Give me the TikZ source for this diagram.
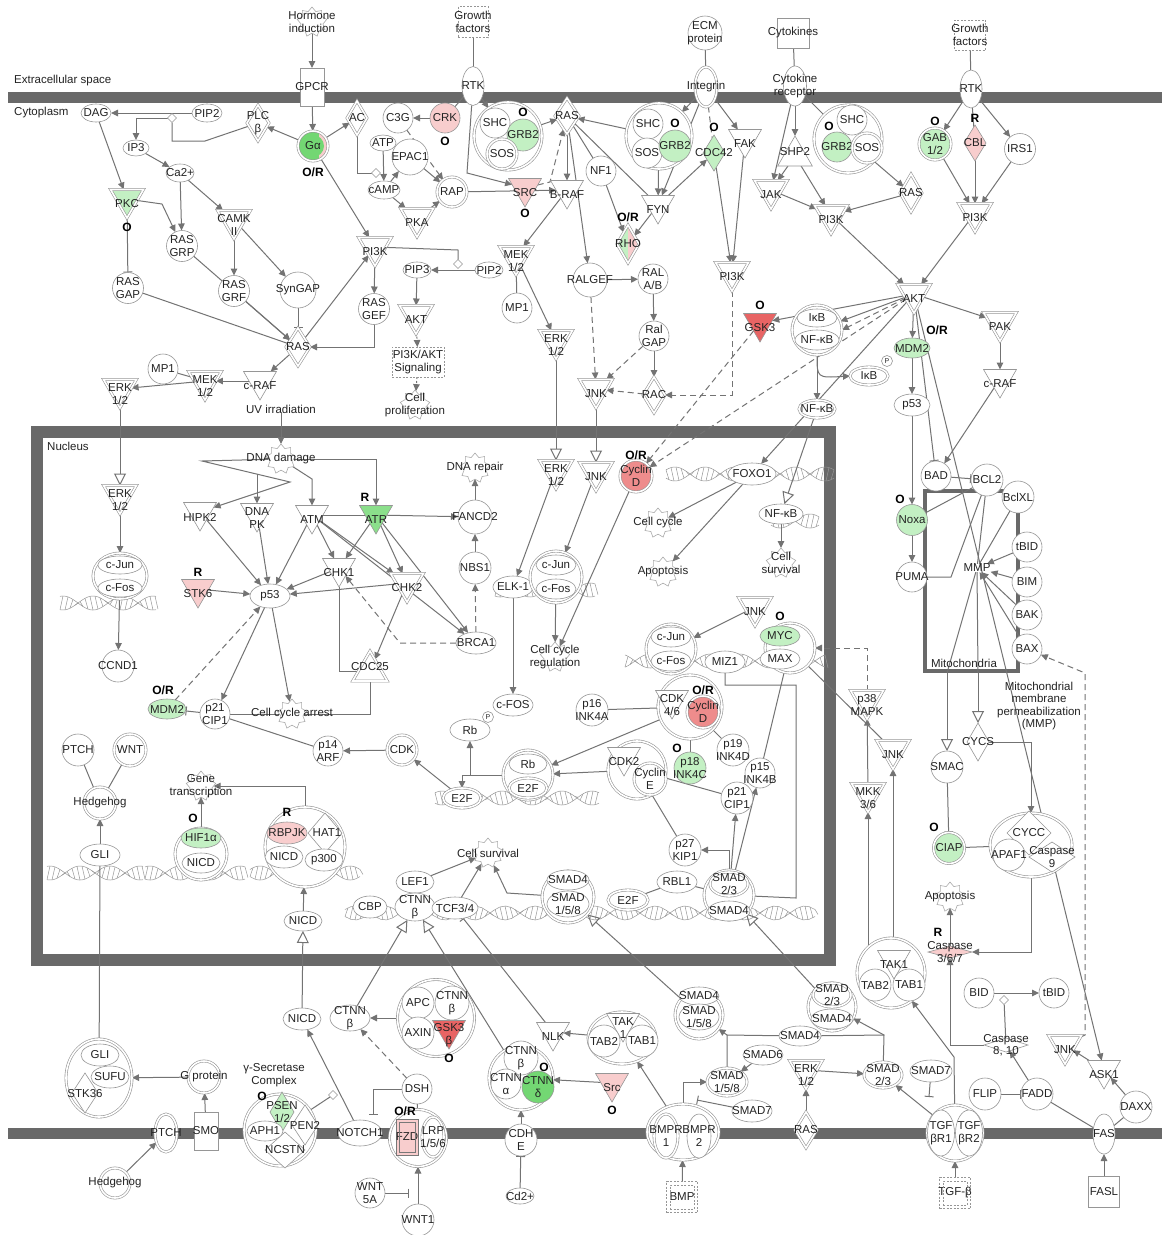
\documentclass[tikz,border=0pt]{standalone}
\usepackage{fontspec}
\setmainfont{Liberation Sans}
\usetikzlibrary{shapes.geometric,arrows.meta,calc}
\definecolor{mem}{RGB}{105,105,105}
\definecolor{ec}{RGB}{115,115,115}
\definecolor{nd}{RGB}{150,150,150}
\definecolor{lg}{RGB}{195,240,195}
\definecolor{gr}{RGB}{115,215,115}
\definecolor{pk}{RGB}{248,205,205}
\definecolor{rd}{RGB}{232,100,100}
\definecolor{cd}{RGB}{238,140,140}
\definecolor{tx}{RGB}{35,35,35}
\pgfdeclarelayer{memb}\pgfdeclarelayer{edg}
\pgfsetlayers{memb,edg,main}
\newcommand\fs{\fontsize{11.5}{12.5}\selectfont}
\tikzset{
 nb/.style={draw=nd, line width=0.6pt, fill=white, inner sep=0pt, outer sep=0pt},
 dbl/.style={double=white, double distance=1.6pt},
 dsh/.style={dash pattern=on 2pt off 1.5pt},
 ci/.style={nb, circle, minimum size=#1},
 el/.style 2 args={nb, ellipse, minimum width=#1, minimum height=#2},
 tr/.style={nb, regular polygon, regular polygon sides=3, shape border rotate=180, minimum size=#1, yshift=5pt},
 tr/.default=38,
 tu/.style={nb, regular polygon, regular polygon sides=3, minimum size=#1, yshift=-4pt},
 tu/.default=40,
 dm/.style 2 args={nb, diamond, minimum width=#1, minimum height=#2},
 rc/.style 2 args={nb, rectangle, minimum width=#1, minimum height=#2},
 sd/.style={nb, diamond, minimum width=9, minimum height=9},
 gear/.style={nb, star, star points=9, star point ratio=1.35, minimum size=30, draw=nd!80},
 lbl/.style={font=\fs, text=tx, align=center, inner sep=0pt},
 ann/.style={font=\fontsize{12}{13}\selectfont\bfseries, text=black, inner sep=0pt},
 ar/.style={draw=ec, line width=1pt, -{Triangle[length=7pt,width=6.5pt]}},
 ln/.style={draw=ec, line width=1pt},
 inh/.style={draw=ec, line width=1pt, -{Bar[width=9pt]}},
 da/.style={ar, dash pattern=on 6pt off 4pt},
 dl/.style={ln, dash pattern=on 6pt off 4pt},
 tl/.style={draw=ec, line width=1pt, -{Triangle[open,length=12pt,width=12pt]}},
 hx/.style={draw=nd, line width=0.5pt},
 halfgp/.style={path picture={
   \fill[lg] (path picture bounding box.south west) rectangle (path picture bounding box.north);
   \fill[pk] (path picture bounding box.south) rectangle (path picture bounding box.north east);}},
 gacol/.style={path picture={
   \fill[gr] (path picture bounding box.south west) rectangle (path picture bounding box.north east);
   \fill[pk] ([xshift=-9pt]path picture bounding box.south east) rectangle (path picture bounding box.north east);
   \fill[gr] (path picture bounding box.center) circle[radius=11pt];}},
}
\newcommand\nd[4]{\node[#1] (#2) at (#3) {};\node[lbl] at (#3) {#4};}
\newcommand\ann[2]{\node[ann] at (#1) {#2};}
\newcommand\hlx[3]{%
  \draw[hx] plot[domain=-#3:#3,samples=80] ({#1+\x},{#2+7*sin(6*\x)});
  \draw[hx] plot[domain=-#3:#3,samples=80] ({#1+\x},{#2-7*sin(6*\x)});
  \pgfmathtruncatemacro\hn{2*#3/5}%
  \foreach \i in {0,...,\hn}{%
    \pgfmathsetmacro\ha{-#3+5*\i}%
    \pgfmathsetmacro\hb{\ha+3}%
    \draw[hx] ({#1+\ha},{#2+7*sin(6*\ha)}) -- ({#1+\hb},{#2-7*sin(6*\hb)});}%
}
\begin{document}
\begin{tikzpicture}[x=1pt,y=-1pt]
\begin{pgfonlayer}{memb}
\fill[white] (0,0) rectangle (1162,1235);
\fill[mem] (8,92) rectangle (1162,103);
\fill[mem] (8,1128) rectangle (1162,1139);
\draw[mem,line width=12pt] (37,432) rectangle (830,960);
\draw[mem,line width=4pt] (925,491) rectangle (1018,671);
\hlx{108}{603}{48}
\hlx{95}{873}{48}
\hlx{195}{873}{50}
\hlx{305}{873}{55}
\hlx{517}{798}{82}
\hlx{545}{590}{50}
\hlx{750}{474}{84}
\hlx{795}{521}{24}
\hlx{725}{661}{100}
\hlx{580}{913}{235}
\end{pgfonlayer}
\useasboundingbox (0,0) rectangle (1162,1235);
\node[lbl,anchor=west] at (14,81) {Extracellular space};
\node[lbl,anchor=west] at (14,113) {Cytoplasm};
\node[lbl,anchor=west] at (47,446) {Nucleus};
\node[lbl] at (964,663) {Mitochondria};
\node[lbl] at (1039,706) {Mitochondrial\\membrane\\permeabilization\\(MMP)};
% extracellular
\nd{gear}{horm}{312,22}{Hormone\\induction}
\nd{rc={30}{31},dsh}{gf1}{473,22}{Growth\\factors}
\nd{ci=34}{ecm}{705,33}{ECM\\protein}
\nd{rc={32}{30}}{cyt}{793,33}{Cytokines}
\nd{rc={31}{30},dsh}{gf2}{970,35}{Growth\\factors}
% membrane
\nd{rc={24}{38}}{gpcr}{312,87}{GPCR}
\nd{el={22}{39}}{rtk1}{473,86}{RTK}
\nd{el={22}{40},dbl}{intg}{706,87}{Integrin}
\nd{el={23}{40}}{cytr}{795,86}{Cytokine\\receptor}
\nd{el={22}{38}}{rtk2}{971,89}{RTK}
% top left
\nd{el={30}{18}}{dag}{96,113}{DAG}
\nd{el={30}{18}}{pip2a}{207,113}{PIP2}
\node[sd] (sd1) at (172,118) {};
\nd{dm={22}{36},dbl}{plcb}{258,123}{PLC\\β}
\nd{ci=30,dbl,gacol}{ga}{313,146}{Gα}
\ann{313,172}{O/R}
\nd{dm={20}{34},dbl}{ac}{357,118}{AC}
\nd{el={26}{16}}{ip3}{136,148}{IP3}
\nd{el={28}{18}}{ca}{180,173}{Ca2+}
\nd{tr,dbl,fill=lg}{pkc}{127,204}{PKC}
\ann{127,227}{O}
\nd{tr,dbl}{camk}{234,225}{CAMK\\II}
\nd{ci=31}{rasgrp}{182,246}{RAS\\GRP}
\nd{ci=31}{rasgap}{128,288}{RAS\\GAP}
\nd{ci=31}{rasgrf}{234,291}{RAS\\GRF}
\nd{ci=36}{syngap}{298,290}{SynGAP}
\nd{tr,dbl}{pi3k1}{375,252}{PI3K}
\nd{dm={24}{38},dbl}{ras1}{298,347}{RAS}
\nd{ci=31}{rasgef}{374,309}{RAS\\GEF}
\nd{ci=30}{mp1a}{163,369}{MP1}
\nd{tr,dbl}{mek1}{205,386}{MEK\\1/2}
\nd{tr}{craf1}{260,386}{c-RAF}
\nd{tr,dbl}{erk1}{120,394}{ERK\\1/2}
\node[lbl] (uv) at (281,409) {UV irradiation};
% top middle
\nd{ci=30}{c3g}{398,118}{C3G}
\nd{ci=30,fill=pk}{crk}{445,118}{CRK}
\ann{445,141}{O}
\nd{el={26}{16}}{atp}{383,143}{ATP}
\nd{ci=36}{epac}{410,157}{EPAC1}
\nd{el={32}{18}}{camp}{384,190}{cAMP}
\node[sd] (sd2) at (376,173) {};
\nd{ci=30,dbl}{rap}{452,192}{RAP}
\nd{tr,dbl}{pka}{417,223}{PKA}
\nd{ci=68,dbl}{cx1}{508,136}{}
\nd{ci=30}{shc1}{495,123}{SHC}
\nd{ci=32,fill=lg}{grb1}{523,135}{GRB2}
\nd{ci=30,dbl}{sos1}{502,154}{SOS}
\ann{523,112}{O}
\nd{dm={24}{36},dbl}{ras2}{567,116}{RAS}
\nd{tr,fill=pk}{src}{525,193}{SRC}
\ann{525,213}{O}
\nd{tr}{braf}{567,195}{B-RAF}
\nd{ci=30}{nf1}{601,171}{NF1}
\nd{ci=66,dbl}{cx2}{659,136}{}
\nd{ci=30}{shc2}{648,124}{SHC}
\nd{ci=30}{sos2}{647,153}{SOS}
\nd{ci=32,fill=lg}{grb2}{675,146}{GRB2}
\ann{675,123}{O}
\nd{dm={22}{36},fill=lg}{cdc42}{714,153}{CDC42}
\ann{714,127}{O}
\nd{tr}{fak}{745,144}{FAK}
\nd{tr}{fyn}{658,210}{FYN}
\nd{dm={22}{38},dbl,halfgp}{rho}{628,244}{RHO}
\ann{628,217}{O/R}
\nd{tr,dbl}{mek2}{516,261}{MEK\\1/2}
\nd{el={28}{16}}{pip3}{417,270}{PIP3}
\nd{el={28}{16}}{pip2b}{489,270}{PIP2}
\node[sd] (sd3) at (458,264) {};
\nd{tr,dbl}{akt1}{416,320}{AKT}
\nd{rc={52}{30},dsh}{pa}{418,362}{PI3K/AKT\\Signaling}
\nd{gear}{cprol}{415,405}{Cell\\proliferation}
\nd{ci=30}{mp1b}{517,308}{MP1}
\nd{ci=34}{ralgef}{590,280}{RALGEF}
\nd{ci=30}{ralab}{653,279}{RAL\\A/B}
\nd{ci=30}{ralgap}{654,336}{Ral\\GAP}
\nd{tr,dbl}{pi3k2}{732,277}{PI3K}
\nd{tr,dbl}{erk2}{556,345}{ERK\\1/2}
\nd{tr,dbl}{jnk1}{596,394}{JNK}
\nd{dm={22}{36},dbl}{rac}{654,395}{RAC}
\nd{tr,fill=rd}{gsk3a}{760,328}{GSK3}
\ann{760,305}{O}
% top right
\nd{tr,dbl}{jak}{771,195}{JAK}
\nd{tu}{shp2}{795,152}{SHP2}
\nd{ci=68,dbl}{cx3}{848,139}{}
\nd{ci=30}{shc3}{852,120}{SHC}
\nd{ci=30,fill=lg}{grb3}{837,147}{GRB2}
\nd{ci=30,dbl}{sos3}{867,148}{SOS}
\ann{829,126}{O}
\nd{dm={22}{38},dbl}{ras3}{911,193}{RAS}
\nd{tr,dbl}{pi3k3}{831,220}{PI3K}
\nd{ci=32,dbl,fill=lg}{gab}{935,144}{GAB\\1/2}
\ann{935,121}{O}
\nd{dm={22}{36},fill=pk}{cbl}{975,143}{CBL}
\ann{975,118}{R}
\nd{ci=31}{irs1}{1020,149}{IRS1}
\nd{tr,dbl}{pi3k4}{975,218}{PI3K}
\nd{tr,dbl}{akt2}{914,299}{AKT}
\nd{ci=50,dbl}{cxnf}{817,330}{}
\nd{el={40}{18}}{ikb1}{817,318}{IκB}
\nd{el={44}{20}}{nfkb1}{817,340}{NF-κB}
\nd{el={38}{18},dbl}{ikb2}{869,376}{IκB}
\nd{ci=11}{pp1}{887,361}{\scriptsize P}
\nd{el={36}{18},dbl}{nfkb2}{817,409}{NF-κB}
\nd{el={36}{20},fill=lg}{mdm2a}{912,348}{MDM2}
\ann{937,330}{O/R}
\nd{tr,dbl}{pak}{1000,327}{PAK}
\nd{tr}{craf2}{1000,384}{c-RAF}
\nd{el={36}{22}}{p53a}{912,405}{p53}
\nd{ci=30}{bad}{936,476}{BAD}
\nd{ci=32}{bcl2}{987,480}{BCL2}
\nd{ci=32}{bclxl}{1018,497}{BclXL}
\nd{ci=31,fill=lg}{noxa}{912,520}{Noxa}
\ann{900,499}{O}
\nd{ci=30}{puma}{912,577}{PUMA}
\node[lbl] (mmp) at (977,568) {MMP};
\nd{ci=30}{tbid1}{1027,547}{tBID}
\nd{ci=30}{bim}{1027,582}{BIM}
\nd{ci=30}{bak}{1027,615}{BAK}
\nd{ci=30}{bax}{1027,649}{BAX}
\coordinate (mitoS) at (947,673);
\coordinate (mitoC) at (978,673);
\nd{ci=32}{smac}{947,767}{SMAC}
\nd{dm={22}{38}}{cycs}{978,742}{CYCS}
\nd{ci=31,dbl,fill=lg}{ciap}{949,848}{CIAP}
\ann{934,827}{O}
\nd{el={82}{64},dbl}{apo}{1031,845}{}
\nd{dm={44}{44}}{cycc}{1029,833}{CYCC}
\nd{ci=32}{apaf}{1009,855}{APAF1}
\nd{dm={46}{30}}{casp9}{1052,857}{Caspase\\9}
\nd{gear}{apop2}{950,897}{Apoptosis}
\nd{dm={44}{12},fill=pk}{c367}{950,952}{Caspase\\3/6/7}
\ann{938,932}{R}
\nd{el={68}{70},dbl}{tak2}{891,973}{}
\nd{tr}{tak1b}{894,965}{TAK1}
\nd{ci=32}{tab2b}{875,985}{TAB2}
\nd{ci=32}{tab1b}{909,985}{TAB1}
\nd{ci=30}{bid}{979,993}{BID}
\nd{ci=30}{tbid2}{1054,993}{tBID}
\node[sd] (sd4) at (1004,1000) {};
\nd{dm={44}{14}}{c810}{1006,1045}{Caspase\\8, 10}
\nd{tr,dbl}{jnk3}{1065,1050}{JNK}
\nd{tr}{ask1}{1104,1075}{ASK1}
\nd{ci=32}{flip}{985,1094}{FLIP}
\nd{ci=32}{fadd}{1037,1094}{FADD}
\nd{ci=32}{daxx}{1136,1107}{DAXX}
\nd{el={22}{40}}{fas}{1104,1134}{FAS}
\nd{rc={31}{31}}{fasl}{1104,1192}{FASL}
\nd{ci=56,dbl}{tgfr}{955,1133}{}
\nd{el={27}{46}}{tgfr1}{941,1133}{TGF\\βR1}
\nd{el={27}{46}}{tgfr2}{969,1133}{TGF\\βR2}
\nd{rc={31}{31},dsh}{tgfb}{955,1193}{TGF-β}
\node[rc={24}{24},dsh,fill=none] at (955,1193) {};
\nd{ci=48,dbl}{sm3}{832,1007}{}
\nd{el={38}{24},dbl}{sm3a}{832,995}{SMAD\\2/3}
\nd{el={42}{20}}{sm3b}{832,1019}{SMAD4}
\nd{el={42}{20}}{smad4c}{800,1036}{SMAD4}
\nd{tr,dbl}{erk5}{806,1075}{ERK\\1/2}
\nd{dm={22}{36},dbl}{ras4}{806,1130}{RAS}
\nd{el={38}{26},dbl}{smad23b}{883,1075}{SMAD\\2/3}
\nd{el={42}{22}}{smad7b}{931,1071}{SMAD7}
\coordinate (j1) at (884,1035);
\coordinate (s7t) at (929,1097);
% bottom middle
\nd{ci=77,dbl}{apcx}{436,1018}{}
\nd{ci=32}{apc}{418,1003}{APC}
\nd{ci=34}{ctnnb3}{452,1003}{CTNN\\β}
\nd{ci=32}{axin}{418,1033}{AXIN}
\nd{tr,fill=rd}{gsk3b}{449,1035}{GSK3\\β}
\ann{449,1058}{O}
\nd{ci=30}{dsh}{417,1089}{DSH}
\nd{ci=57,dbl}{fzdx}{418,1138}{}
\nd{rc={22}{36},fill=pk,draw=nd!80!black}{fzd}{407,1137}{FZD}
\node[rc={16}{30},fill=none,draw=nd!80!black] at (407,1137) {};
\nd{el={22}{40},dbl}{lrp}{433,1137}{LRP\\1/5/6}
\ann{405,1111}{O/R}
\nd{ci=32}{wnt1b}{418,1220}{WNT1}
\nd{ci=30}{wnt5a}{370,1193}{WNT\\5A}
\coordinate (w5) at (409,1193);
\nd{ci=64,dbl}{ctx}{521,1078}{}
\nd{ci=34}{ctnnb4}{521,1058}{CTNN\\β}
\nd{ci=30}{ctnna}{506,1084}{CTNN\\α}
\nd{ci=32,fill=gr}{ctnnd}{538,1087}{CTNN\\δ}
\ann{544,1067}{O}
\nd{ci=32}{cdhe}{521,1140}{CDH\\E}
\nd{el={28}{16}}{cd2}{520,1196}{Cd2+}
\nd{tr}{nlk}{553,1037}{NLK}
\nd{el={68}{52},dbl}{takx}{622,1038}{}
\nd{tr}{tak1a}{623,1028}{TAK\\1}
\nd{ci=32}{tab2a}{604,1041}{TAB2}
\nd{ci=32}{tab1a}{642,1041}{TAB1}
\nd{tr,fill=pk}{src2}{612,1088}{Src}
\ann{612,1110}{O}
\nd{ci=48,dbl}{smx}{699,1015}{}
\nd{el={40}{18}}{smx4}{699,996}{SMAD4}
\nd{el={40}{26}}{smx158}{699,1017}{SMAD\\1/5/8}
\nd{el={40}{20}}{smad6}{763,1055}{SMAD6}
\nd{el={40}{28},dbl}{smad158b}{727,1082}{SMAD\\1/5/8}
\nd{el={40}{22}}{smad7a}{752,1111}{SMAD7}
\coordinate (j2) at (727,1035);
\coordinate (s7a) at (697,1100);
\nd{el={72}{56},dbl}{bmprx}{683,1132}{}
\nd{el={24}{44},dbl}{bmpr1}{666,1136}{BMPR\\1}
\nd{el={24}{44}}{bmpr2}{699,1136}{BMPR\\2}
\nd{rc={31}{31},dsh}{bmp}{682,1197}{BMP}
\node[rc={24}{24},dsh,fill=none] at (682,1197) {};
% bottom left
\nd{el={66}{78},dbl}{glix}{99,1078}{}
\nd{el={38}{22}}{gli2}{100,1055}{GLI}
\nd{dm={26}{40}}{stk36}{85,1093}{}
\nd{el={38}{22}}{sufu}{110,1077}{SUFU}
\node[lbl] at (85,1094) {STK36};
\nd{ci=32,dbl}{gprot}{204,1077}{G protein}
\nd{rc={24}{38}}{smo}{206,1131}{SMO}
\nd{el={22}{38},dbl}{ptch2}{166,1133}{PTCH}
\nd{ci=30,dbl}{hh2}{115,1183}{Hedgehog}
\node[lbl] at (274,1075) {γ-Secretase\\Complex};
\nd{ci=72,dbl}{gsx}{280,1130}{}
\nd{dm={24}{40},fill=lg}{psen}{282,1112}{PSEN\\1/2}
\nd{dm={40}{36}}{ncstn}{285,1150}{NCSTN}
\nd{dm={26}{40}}{pen2}{305,1125}{PEN2}
\nd{el={36}{20}}{aph1}{265,1131}{APH1}
\ann{262,1096}{O}
\node[sd] (sd5) at (333,1095) {};
\nd{el={44}{26}}{notch}{360,1133}{NOTCH1}
\coordinate (nb1) at (373,1115);
\nd{el={38}{22}}{nicd3}{302,1019}{NICD}
\nd{el={40}{26}}{ctnnb2}{350,1018}{CTNN\\β}
% nucleus left
\nd{tr,dbl}{erk3}{120,500}{ERK\\1/2}
\nd{el={54}{46},dbl}{jf1}{120,576}{}
\nd{el={44}{18}}{jun1}{120,565}{c-Jun}
\nd{el={44}{18}}{fos1}{120,588}{c-Fos}
\nd{ci=32}{ccnd1}{118,666}{CCND1}
\nd{gear}{dnad}{281,459}{DNA damage}
\coordinate (zz) at (257,474);
\nd{tr}{hipk2}{200,517}{HIPK2}
\nd{tr}{dnapk}{257,518}{DNA\\PK}
\nd{tr}{atm}{312,520}{ATM}
\nd{tr,fill=gr!70!lg}{atr}{376,520}{ATR}
\ann{365,497}{R}
\nd{ci=34}{fancd2}{475,517}{FANCD2}
\nd{gear}{dnar}{475,468}{DNA repair}
\nd{ci=32}{nbs1}{475,568}{NBS1}
\nd{tr,fill=pk}{stk6}{198,594}{STK6}
\ann{198,572}{R}
\nd{el={40}{24}}{p53b}{270,596}{p53}
\nd{tr}{chk1}{339,573}{CHK1}
\nd{tr,dbl}{chk2}{407,588}{CHK2}
\nd{el={40}{22}}{brca1}{476,643}{BRCA1}
\nd{tu,dbl}{cdc25}{370,667}{CDC25}
\nd{el={38}{20},fill=lg}{mdm2b}{167,709}{MDM2}
\ann{163,690}{O/R}
\nd{ci=30}{p21a}{215,714}{p21\\CIP1}
\nd{gear}{ccarr}{292,714}{Cell cycle arrest}
\nd{ci=30}{p14}{328,751}{p14\\ARF}
\nd{ci=30,dbl}{cdk1}{402,750}{CDK}
\nd{ci=32}{ptch1}{78,750}{PTCH}
\nd{ci=32,dbl}{wnt1n}{130,750}{WNT}
\nd{ci=32,dbl}{hh1}{100,803}{Hedgehog}
\nd{el={40}{22}}{gli1}{100,855}{GLI}
\nd{gear}{genetx}{201,786}{Gene\\transcription}
\nd{ci=52,dbl}{hifx}{201,854}{}
\nd{el={40}{20},fill=lg}{hif}{201,838}{HIF1α}
\nd{el={38}{20}}{nicd1}{201,863}{NICD}
\ann{193,818}{O}
\nd{ci=80,dbl}{rbx}{305,847}{}
\nd{dm={34}{40}}{hat1}{325,833}{}
\nd{el={40}{22},fill=pk}{rbpjk}{287,833}{RBPJK}
\node[lbl] at (327,833) {HAT1};
\nd{el={38}{22}}{nicd0}{284,857}{NICD}
\nd{el={38}{22}}{p300}{324,860}{p300}
\ann{287,812}{R}
\nd{el={34}{22}}{cbp}{370,907}{CBP}
\nd{el={38}{20}}{nicd2}{303,921}{NICD}
% nucleus middle
\nd{el={40}{22}}{cfos}{513,705}{c-FOS}
\nd{ci=32}{p16}{592,710}{p16\\INK4A}
\nd{ci=64,dbl}{cdx}{690,707}{}
\nd{tr}{cdk46}{672,705}{CDK\\4/6}
\nd{ci=32,dbl,fill=cd}{cycd2}{703,712}{Cyclin\\D}
\ann{703,690}{O/R}
\nd{el={40}{22}}{rb1}{470,730}{Rb}
\nd{ci=11}{pp2}{488,717}{\scriptsize P}
\nd{ci=50,dbl}{rbx2}{528,775}{}
\nd{el={38}{20}}{rb2}{528,764}{Rb}
\nd{el={38}{20},dbl}{e2f1}{528,788}{E2F}
\nd{el={38}{20},dbl}{e2f2}{462,798}{E2F}
\nd{ci=58,dbl}{cdk2x}{637,770}{}
\nd{tr}{cdk2}{624,762}{CDK2}
\nd{ci=32,dbl}{cyce}{650,779}{Cyclin\\E}
\nd{ci=32,fill=lg}{p18}{690,768}{p18\\INK4C}
\ann{677,748}{O}
\nd{ci=32}{p19}{733,750}{p19\\INK4D}
\nd{ci=30}{p15}{760,773}{p15\\INK4B}
\nd{ci=32}{p21b}{737,798}{p21\\CIP1}
\nd{ci=32}{p27}{685,850}{p27\\KIP1}
\nd{gear}{csurv2}{488,853}{Cell survival}
\nd{el={38}{22}}{lef1}{415,882}{LEF1}
\nd{el={40}{28}}{ctnnb1}{415,907}{CTNN\\β}
\nd{el={46}{22}}{tcf}{455,908}{TCF3/4}
\nd{ci=52,dbl}{smc1}{568,897}{}
\nd{el={42}{20}}{smc1a}{568,880}{SMAD4}
\nd{el={42}{26}}{smc1b}{568,904}{SMAD\\1/5/8}
\nd{el={40}{20},dbl}{e2f3}{628,900}{E2F}
\nd{el={40}{22}}{rbl1}{677,882}{RBL1}
\nd{ci=50,dbl}{smc2}{729,895}{}
\nd{el={38}{24},dbl}{smc2a}{729,884}{SMAD\\2/3}
\nd{el={42}{20}}{smc2b}{729,911}{SMAD4}
\nd{gear}{ccreg}{555,657}{Cell cycle\\regulation}
\nd{tr,dbl}{erk4}{556,475}{ERK\\1/2}
\nd{tr,dbl}{jnk2}{596,477}{JNK}
\nd{ci=32,dbl,fill=cd}{cycd1}{636,476}{Cyclin\\D}
\ann{636,455}{O/R}
\nd{el={48}{22}}{foxo1}{752,474}{FOXO1}
\nd{gear}{ccyc}{658,523}{Cell cycle}
\nd{gear}{apop1}{663,572}{Apoptosis}
\nd{el={40}{22}}{elk1}{513,587}{ELK-1}
\nd{ci=52,dbl}{jf2}{556,577}{}
\nd{el={40}{20}}{jun2}{556,565}{c-Jun}
\nd{el={40}{20}}{fos2}{556,589}{c-Fos}
\nd{el={44}{20}}{nfkb3}{781,514}{NF-κB}
\nd{gear}{csurv1}{781,563}{Cell\\survival}
\nd{tr,dbl}{jnk4}{755,612}{JNK}
\ann{780,616}{O}
\nd{ci=50,dbl}{jf3}{671,649}{}
\nd{el={40}{20}}{jun3}{671,637}{c-Jun}
\nd{el={40}{20}}{fos3}{671,661}{c-Fos}
\nd{el={40}{22}}{miz1}{725,662}{MIZ1}
\nd{ci=50,dbl}{mycx}{790,648}{}
\nd{el={40}{20},fill=lg}{myc}{780,636}{MYC}
\nd{el={40}{20}}{max}{780,659}{MAX}
\nd{tr,dbl}{p38}{867,705}{p38\\MAPK}
\nd{tr,dbl}{jnk5}{893,755}{JNK}
\nd{tr,dbl}{mkk}{868,798}{MKK\\3/6}
% ---------------- edges
\begin{pgfonlayer}{edg}
\draw[ar] (horm) -- (gpcr);
\draw[ar] (gpcr) -- (ga);
\draw[ar] (ga) -- (plcb);
\draw[ar] (ga) -- (ac);
\draw[ar] (ga) -- (pi3k1);
\draw[ar] (pip2a) -- (dag);
\draw[ar] (sd1) -- (136,118) -- (ip3);
\draw[ln] (plcb) -- (205,141) -- (172,141) -- (sd1);
\draw[ar] (ip3) -- (ca);
\draw[ar] (ca) -- (rasgrp);
\draw[ar] (ca) -- (camk);
\draw[ar] (dag) -- (pkc);
\draw[ar] (pkc) -- (162,204) -- (rasgrp);
\draw[inh] (pkc) -- (rasgap);
\draw[ar] (camk) -- (rasgrf);
\draw[ar] (camk) -- (syngap);
\draw[inh] (rasgap) -- (ras1);
\draw[ar] (rasgrp) -- (ras1);
\draw[ar] (rasgrf) -- (ras1);
\draw[inh] (syngap) -- (ras1);
\draw[ar] (rasgef) |- (ras1);
\draw[ar] (ras1) -- (pi3k1);
\draw[ar] (pi3k1) -- (rasgef);
\draw[ln] (pi3k1) -- (458,250) -- (sd3);
\draw[ar] (pip2b) -- (pip3);
\draw[ar] (pip3) -- (akt1);
\draw[ar,dash pattern=on 2pt off 2pt] (akt1) -- (pa);
\draw[ar,dash pattern=on 2pt off 2pt] (pa) -- (cprol);
\draw[ar] (ras1) -- (craf1);
\draw[ar] (craf1) -- (mek1);
\draw[ln] (mp1a) -- (mek1);
\draw[ar] (mek1) -- (erk1);
\draw[tl] (erk1) -- (erk3);
\draw[ar] (uv) -- (dnad);
\draw[ar] (erk3) -- (jf1);
\draw[ar] (jf1) -- (ccnd1);
\draw[ln] (gf1) -- (rtk1);
\draw[ln] (rtk1) -- (crk);
\draw[ar] (crk) -- (c3g);
\draw[da] (c3g) -- (rap);
\draw[ar] (rtk1) -- (cx1);
\draw[ar] (rtk1) -- (467,173) -- (src);
\draw[ar] (cx1) -- (ras2);
\draw[da] (src) -- (550,182) -- (ras2);
\draw[ar] (ras2) -- (braf);
\draw[ar] (rap) -- (braf);
\draw[ln] (ac) -- (357,173) -- (sd2);
\draw[ar] (atp) -- (camp);
\draw[ar] (camp) -- (epac);
\draw[ar] (camp) -- (pka);
\draw[ar] (epac) -- (rap);
\draw[ar] (pka) -- (rap);
\draw[ar] (braf) -- (mek2);
\draw[ln] (mek2) -- (mp1b);
\draw[ar] (mek2) -- (erk2);
\draw[tl] (erk2) -- (erk4);
\draw[ar] (ras2) -- (ralgef);
\draw[ln] (nf1) -- (ras2);
\draw[ar] (nf1) -- (rho);
\draw[ar] (cx2) -- (ras2);
\draw[ln] (fyn) -- (ras2);
\draw[ln] (ecm) -- (intg);
\draw[ar] (intg) -- (cx2);
\draw[ar] (intg) -- (fyn);
\draw[dl] (intg) -- (cdc42);
\draw[ar] (intg) -- (fak);
\draw[ar] (fyn) -- (rho);
\draw[ar] (fyn) -- (cdc42);
\draw[ar] (cx2) -- (fyn);
\draw[ar] (cdc42) -- (pi3k2);
\draw[ar] (fak) -- (pi3k2);
\draw[ar] (ralgef) -- (ralab);
\draw[ar] (ralab) -- (ralgap);
\draw[ar] (ralgap) -- (rac);
\draw[da] (ralgap) -- (jnk1);
\draw[da] (ralgef) -- (jnk1);
\draw[da] (rac) -- (jnk1);
\draw[da] (pi3k2) |- (rac);
\draw[tl] (jnk1) -- (jnk2);
\draw[ln] (cyt) -- (cytr);
\draw[ar] (cytr) -- (jak);
\draw[ar] (cytr) -- (shp2);
\draw[ln] (cytr) -- (cx3);
\draw[ar] (shp2) -- (jak);
\draw[ar] (shp2) -- (pi3k3);
\draw[ar] (jak) -- (pi3k3);
\draw[ar] (cx3) -- (ras3);
\draw[ar] (ras3) -- (pi3k3);
\draw[ln] (gf2) -- (rtk2);
\draw[ar] (rtk2) -- (gab);
\draw[ln] (rtk2) -- (cbl);
\draw[ar] (rtk2) -- (irs1);
\draw[ar] (gab) -- (pi3k4);
\draw[ar] (cbl) -- (pi3k4);
\draw[ar] (irs1) -- (pi3k4);
\draw[ar] (pi3k3) -- (akt2);
\draw[ar] (pi3k4) -- (akt2);
\draw[ar] (akt2) -- (gsk3a);
\draw[ar] (akt2) -- (cxnf);
\draw[da] (akt2) -- (cxnf.east);
\draw[da] (akt2) -- (cycd1);
\draw[da] (gsk3a) -- (cycd1);
\draw[ar] (akt2) -- (mdm2a);
\draw[ar] (akt2) -- (pak);
\draw[inh] (akt2) -- (bad);
\draw[ar] (akt2) -- (foxo1);
\draw[ar] (akt2) -- (ask1);
\draw[ar] (cxnf) -- (nfkb2);
\draw[ar] (cxnf.south) .. controls (817,378) .. (ikb2.west);
\draw[tl] (nfkb2) -- (nfkb3);
\draw[ar] (nfkb3) -- (csurv1);
\draw[ar] (foxo1) -- (ccyc);
\draw[ar] (foxo1) -- (apop1);
\draw[ar] (mdm2a) -- (p53a);
\draw[ar] (p53a) -- (noxa);
\draw[ar] (noxa) -- (puma);
\draw[ar] (pak) -- (craf2);
\draw[ar] (craf2) -- (bad);
\draw[inh] (bad) -- (bcl2);
\draw[ln] (noxa) -- (bcl2);
\draw[ln] (puma) -- (951,577) -- (bcl2);
\draw[ln] (bcl2) -- (mmp);
\draw[ln] (bclxl) -- (mmp);
\draw[ar] (tbid1) -- (mmp);
\draw[ar] (bim) -- (mmp);
\draw[ar] (bak) -- (mmp);
\draw[ar] (bax) -- (mmp);
\draw[ln] (mmp) -- (mitoS);
\draw[ln] (mmp) -- (mitoC);
\draw[tl] (mitoS) -- (smac);
\draw[tl] (mitoC) -- (cycs);
\draw[inh] (smac) -- (ciap);
\draw[inh] (ciap) -- (apo);
\draw[ar] (cycs) -| (apo);
\draw[ar] (apo) |- (c367);
\draw[ar] (c367) -- (apop2);
\draw[ar] (c810) -| (c367);
\draw[ar] (bid) -- (tbid2);
\draw[ln] (sd4) -- (c810);
\draw[ar] (fadd) -- (c810);
\draw[inh] (flip) -- (fadd);
\draw[ln] (fas) -- (fadd);
\draw[ln] (fas) -- (daxx);
\draw[ar] (daxx) -- (ask1);
\draw[ar] (ask1) -- (jnk3);
\draw[ar] (fasl) -- (fas);
\draw[da] (jnk3) -- (1085,1035) -- (1085,673) -- (bax);
\draw[ar] (tgfb) -- (tgfr);
\draw[ar] (tgfr) -- (954,1057) -- (tak2);
\draw[ar] (tgfr) -- (smad23b);
\draw[inh] (smad7b) -- (s7t);
\draw[ar] (smad23b) -- (j1) -- (sm3);
\draw[ln] (smad4c) -- (j1);
\draw[ar] (ras4) -- (erk5);
\draw[ar] (erk5) -- (smad23b);
\draw[tl] (sm3) -- (smc2);
\draw[ar] (tak2.center -| mkk.center) -- (mkk);
\draw[ar] (tak2.center -| jnk5.center) -- (jnk5);
\draw[ar] (mkk) -- (p38);
\draw[da] (p38) |- (mycx);
\draw[ln] (jnk5) -- (mycx);
\draw[ar] (jnk4) -- (jf3);
\draw[ln] (miz1) -- (725,685) -- (796,685) -- (796,898) -- (smc2);
\draw[ln] (mycx) -- (p15);
\draw[ar] (smc2) -- (p15);
\draw[ar] (smc2) -- (p21b);
\draw[ar] (smc2) |- (p27);
\draw[inh] (p27) -- (cdk2x);
\draw[inh] (p21b) -- (cdk2x);
\draw[inh] (p18) -- (cdx);
\draw[inh] (p19) -- (cdx);
\draw[inh] (p16) -- (cdx);
\draw[ar] (cdx) -- (rbx2);
\draw[ar] (cdk2x) -- (rbx2);
\draw[ar] (rbx2) -| (rb1);
\draw[ar] (rbx2) -| (e2f2);
\draw[ar] (e2f2) -- (cdk1);
\draw[ar] (cdk1) -- (p14);
\draw[ln] (p21a) -- (p14);
\draw[ar] (p53b) -- (p21a);
\draw[ar] (p53b) -- (ccarr);
\draw[da] (mdm2b) -- (p53b);
\draw[inh] (p21a) -- (mdm2b);
\draw[ln] (p21a) -- (ccarr);
\draw[ln] (cdc25) |- (ccarr);
\draw[ar] (dnad) -| (atr);
\draw[ar] (dnad) -- (202,461) -- (290,482) -- (hipk2);
\draw[ar] (zz) -- (dnapk);
\draw[ar] (dnad) -- (312,479) -- (atm);
\draw[ar] (hipk2) -- (p53b);
\draw[ar] (dnapk) -- (p53b);
\draw[ar] (atm) -- (p53b);
\draw[ln] (atm) -- (atr);
\draw[ar] (atm) -- (chk1);
\draw[ar] (atm) -- (chk2);
\draw[ar] (atm) -- (brca1);
\draw[ar] (atr) -- (fancd2);
\draw[ar] (atr) -- (chk1);
\draw[ar] (atr) -- (chk2);
\draw[ar] (atr) -- (brca1);
\draw[ar] (chk1) -- (p53b);
\draw[ar] (chk2) -- (p53b);
\draw[ar] (chk2) -- (cdc25);
\draw[ln] (chk1) |- (cdc25);
\draw[da] (brca1) -- (400,643) -- (chk1);
\draw[da] (brca1) -- (nbs1);
\draw[ar] (nbs1) -- (fancd2);
\draw[ar] (fancd2) -- (dnar);
\draw[ar] (stk6) -- (p53b);
\draw[ar] (erk4) -- (elk1);
\draw[ar] (jnk2) -- (jf2);
\draw[ar] (cycd1) -- (ccreg);
\draw[ar] (jf2) -- (ccreg);
\draw[ar] (elk1) -- (cfos);
\draw[ln] (ptch1) -- (hh1);
\draw[ln] (wnt1n) -- (hh1);
\draw[ar] (gli1) -- (hh1);
\draw[ln] (glix) -- (gli1);
\draw[ar] (hifx) -- (genetx);
\draw[ar] (rbx) |- (genetx);
\draw[ar] (nicd2) -- (rbx);
\draw[tl] (nicd3) -- (nicd2);
\draw[ar] (notch) -- (nicd3);
\draw[ln] (gsx) -- (sd5);
\draw[ar] (smo) -- (gprot);
\draw[ar] (gprot) -- (glix);
\draw[ar] (hh2) -- (ptch2);
\draw[ar] (wnt1b) -- (fzdx);
\draw[inh] (wnt5a) -- (w5);
\draw[ln] (fzdx) -- (dsh);
\draw[da] (dsh) -- (ctnnb2);
\draw[inh] (dsh) -- (373,1089) -- (nb1);
\draw[ar] (apcx) -- (ctnnb2);
\draw[tl] (ctnnb2) -- (ctnnb1);
\draw[tl] (ctx) -- (ctnnb1);
\draw[inh] (nlk) -- (tcf);
\draw[ar] (src2) -- (ctx);
\draw[ar] (cdhe) -- (ctx);
\draw[inh] (cd2) -- (cdhe);
\draw[ar] (takx) -- (nlk);
\draw[ar] (bmprx) -- (takx);
\draw[ar] (bmp) -- (bmprx);
\draw[ar] (bmprx) |- (smad158b);
\draw[inh] (smad7a) -- (s7a);
\draw[ar] (smad6) -- (smad158b);
\draw[ar] (smad158b) -- (j2) -- (smx);
\draw[ln] (smad4c) -- (j2);
\draw[tl] (smx) -- (smc1);
\draw[ar] (smc1) -- (507,893) -- (csurv2);
\draw[ar] (lef1) -- (csurv2);
\draw[ar] (tcf) -- (csurv2);
\draw[ln] (rbl1) -- (e2f3);
\draw[ln] (rbl1) -- (smc2);
\end{pgfonlayer}
\end{tikzpicture}
\end{document}
